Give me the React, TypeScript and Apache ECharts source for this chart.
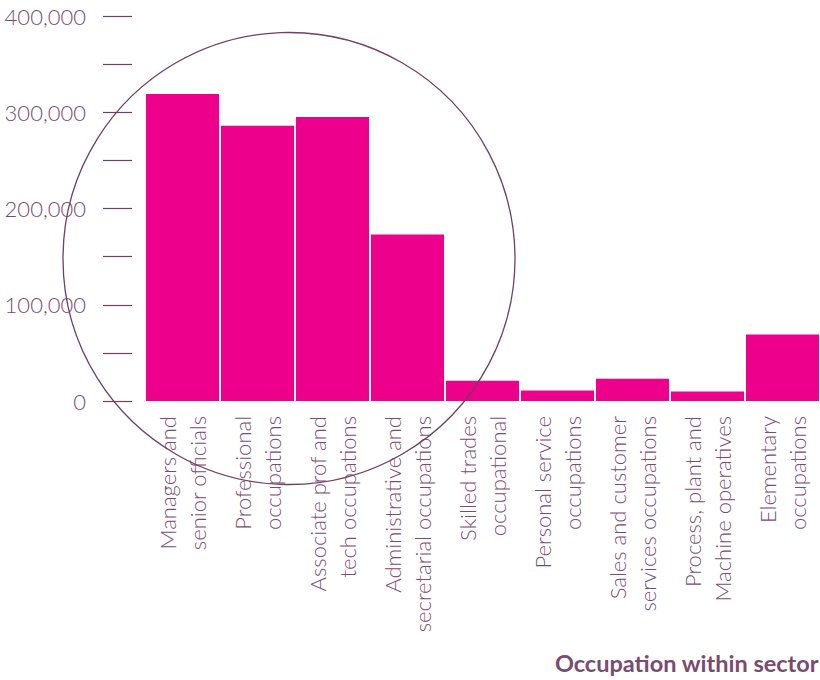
import React, { useEffect, useRef } from "react";
import * as echarts from "echarts";

const categories: string[] = [
  "Managers and\nsenior officials",
  "Professional\noccupations",
  "Associate prof and\ntech occupations",
  "Administrative and\nsecretarial occupations",
  "Skilled trades\noccupational",
  "Personal service\noccupations",
  "Sales and customer\nservices occupations",
  "Process, plant and\nMachine operatives",
  "Elementary\noccupations",
];

const values: number[] = [319000, 286000, 295000, 173000, 21000, 11000, 23000, 10000, 69000];

const yMin = 0;
const yMax = 400000;
const yInterval = 100000;
const axisTitle = "Occupation within sector";

const TEXT = "#7a4b70";
const LINE = "#70405f";
const BAR = "#ec008c";

export default function App() {
  const ref = useRef<HTMLDivElement>(null);
  useEffect(() => {
    if (!ref.current) return;
    const chart = echarts.init(ref.current, undefined, { renderer: "svg" });
    chart.setOption({
      animation: false,
      backgroundColor: "#ffffff",
      textStyle: { fontFamily: "Lato" },
      grid: { left: 145, top: 16, width: 676, bottom: 279, containLabel: false },
      title: {
        text: axisTitle,
        right: 1,
        top: 651,
        padding: 0,
        textStyle: { fontFamily: "Lato", fontSize: 23.5, fontWeight: "bold", color: TEXT },
      },
      xAxis: {
        type: "category",
        data: categories,
        axisLine: { show: false },
        axisTick: { show: false },
        splitLine: { show: false },
        axisLabel: {
          interval: 0,
          rotate: 90,
          margin: 15,
          color: TEXT,
          fontFamily: "Lato",
          fontWeight: 300,
          fontSize: 22,
          lineHeight: 30,
        },
      },
      yAxis: {
        type: "value",
        min: yMin,
        max: yMax,
        interval: yInterval,
        offset: 13,
        axisLine: { show: false },
        splitLine: { show: false },
        axisTick: { show: true, length: 29, lineStyle: { color: LINE, width: 1.2 } },
        minorTick: { show: true, splitNumber: 2, length: 29, lineStyle: { color: LINE, width: 1.2 } },
        minorSplitLine: { show: false },
        axisLabel: {
          margin: 46,
          color: TEXT,
          fontFamily: "Lato",
          fontWeight: 300,
          fontSize: 22,
          formatter: (v: number) => v.toLocaleString("en-US"),
        },
      },
      series: [
        {
          type: "bar",
          data: values,
          barCategoryGap: "2.6%",
          itemStyle: { color: BAR },
        },
      ],
      graphic: [
        {
          type: "circle",
          z: 100,
          silent: true,
          shape: { cx: 289, cy: 258.5, r: 226 },
          style: { fill: "none", stroke: LINE, lineWidth: 1.3 },
        },
      ],
    });
    return () => chart.dispose();
  }, []);
  return (
    <div
      ref={ref}
      style={{ position: "fixed", left: 0, top: 0, width: 820, height: 680 }}
    />
  );
}
